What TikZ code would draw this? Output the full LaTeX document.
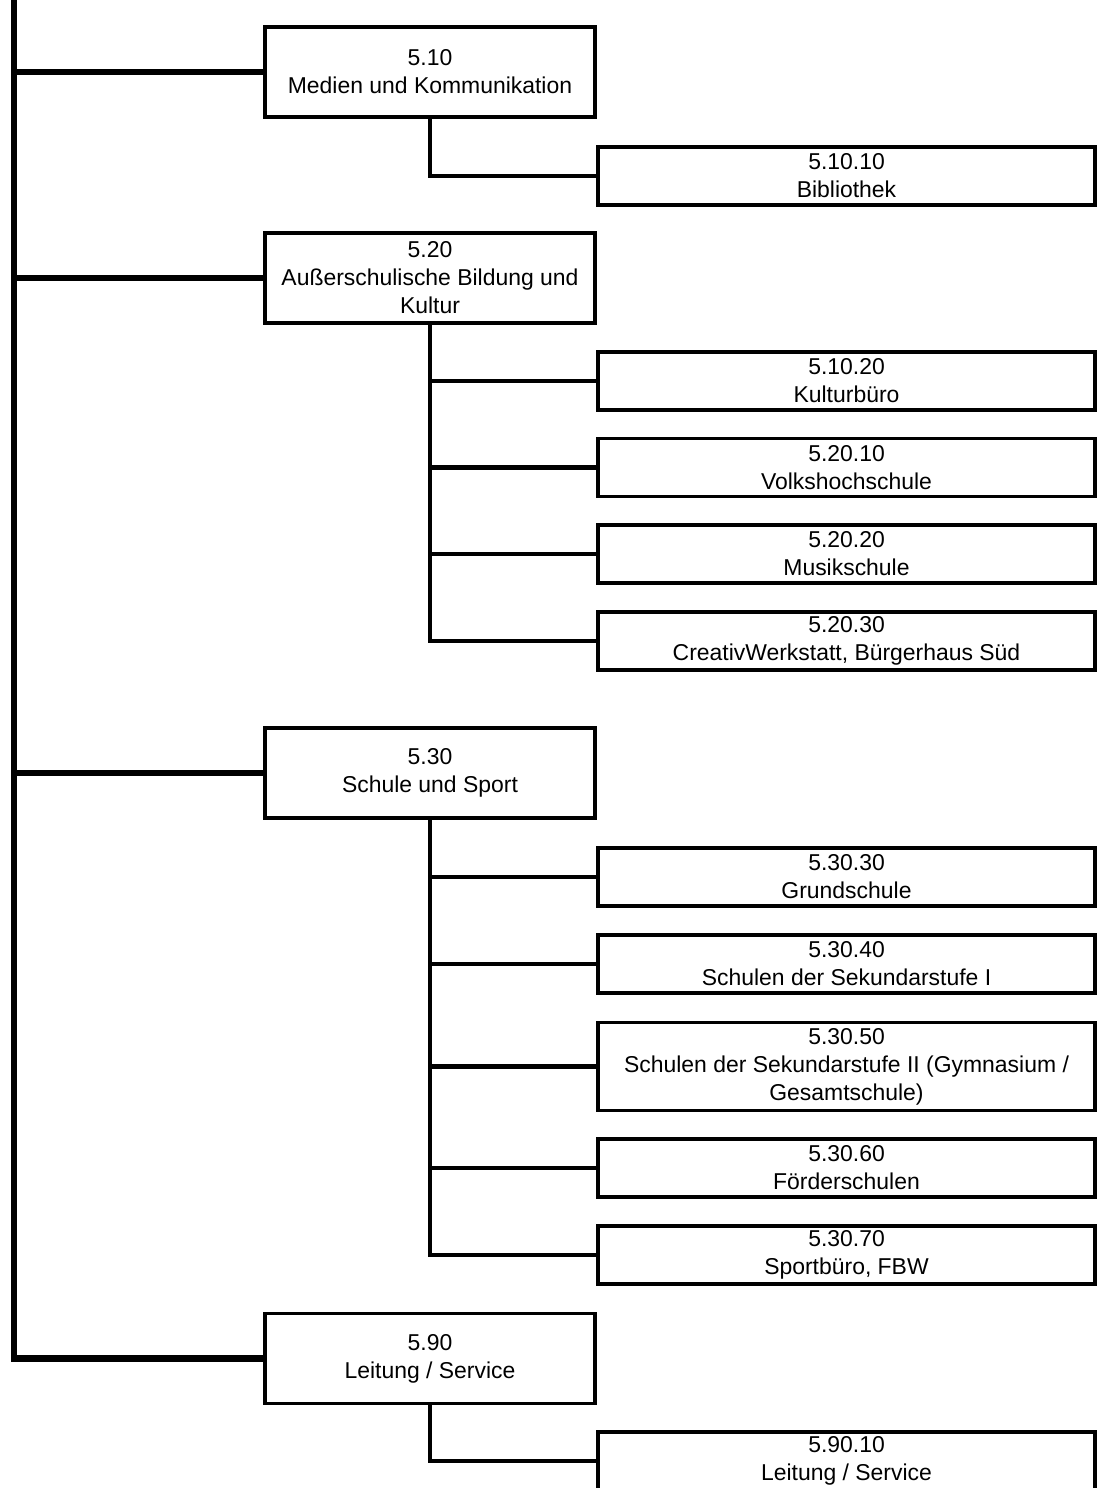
\documentclass[tikz,border=0pt]{standalone}
\usepackage{fontspec}
\setmainfont{Liberation Sans}
\usetikzlibrary{positioning}
\tikzstyle{unit} = [rectangle, draw, line width=2.4pt, align=center,
    minimum width=247.5pt, minimum height=67.5pt, inner sep=2pt,
    font=\fontsize{17.2}{21}\selectfont]
\tikzstyle{subunit} = [unit, minimum width=372.75pt, minimum height=43.5pt]
\tikzstyle{trunk} = [draw, line width=4.6pt]
\tikzstyle{link} = [draw, line width=3.4pt]

\begin{document}
\begin{tikzpicture}[x=0.75pt, y=-0.75pt]
    \clip (0,0) rectangle (1107,1488);
    % Place nodes
    \coordinate (top) at (14,-10);
    \node [unit] (u510) at (430,72) {5.10\\Medien und Kommunikation};
    \node [subunit] (u51010) at (846.5,176) {5.10.10\\Bibliothek};

    \node [unit] (u520) at (430,278) {5.20\\Außerschulische Bildung und\\Kultur};
    \node [subunit] (u51020) at (846.5,381) {5.10.20\\Kulturbüro};
    \node [subunit] (u52010) at (846.5,467.5) {5.20.10\\Volkshochschule};
    \node [subunit] (u52020) at (846.5,554) {5.20.20\\Musikschule};
    \node [subunit] (u52030) at (846.5,641) {5.20.30\\CreativWerkstatt, Bürgerhaus Süd};

    \node [unit] (u530) at (430,773) {5.30\\Schule und Sport};
    \node [subunit] (u53030) at (846.5,877) {5.30.30\\Grundschule};
    \node [subunit] (u53040) at (846.5,964) {5.30.40\\Schulen der Sekundarstufe I};
    \node [subunit, minimum height=66pt] (u53050) at (846.5,1066.5) {5.30.50\\Schulen der Sekundarstufe II (Gymnasium /\\Gesamtschule)};
    \node [subunit] (u53060) at (846.5,1168) {5.30.60\\Förderschulen};
    \node [subunit] (u53070) at (846.5,1255) {5.30.70\\Sportbüro, FBW};

    \node [unit] (u590) at (430,1358.5) {5.90\\Leitung / Service};
    \node [subunit] (u59010) at (846.5,1461) {5.90.10\\Leitung / Service};

    % Draw edges
    % Trunk
    \path [trunk] (top) |- (u590.west);
    \path [trunk] (u510.west) -- (u510.west -| top);
    \path [trunk] (u520.west) -- (u520.west -| top);
    \path [trunk] (u530.west) -- (u530.west -| top);

    % Sub units
    \path [link] (u510.south) |- (u51010.west);
    \path [link] (u520.south) |- (u52030.west);
    \path [link] (u51020.west) -- (u51020.west -| u520.south);
    \path [link] (u52010.west) -- (u52010.west -| u520.south);
    \path [link] (u52020.west) -- (u52020.west -| u520.south);
    \path [link] (u530.south) |- (u53070.west);
    \path [link] (u53030.west) -- (u53030.west -| u530.south);
    \path [link] (u53040.west) -- (u53040.west -| u530.south);
    \path [link] (u53050.west) -- (u53050.west -| u530.south);
    \path [link] (u53060.west) -- (u53060.west -| u530.south);
    \path [link] (u590.south) |- (u59010.west);

\end{tikzpicture}
\end{document}
